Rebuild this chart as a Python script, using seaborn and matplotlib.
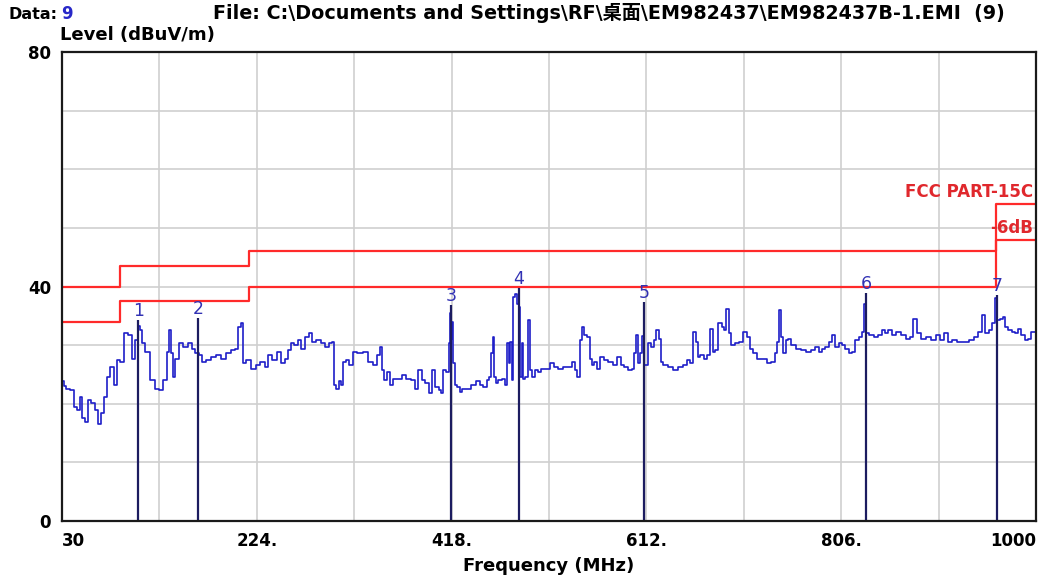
import matplotlib
matplotlib.use("Agg")
import matplotlib.pyplot as plt
import seaborn as sns

# EMI scan trace (MHz, dBuV/m)
freq = [30, 33, 35, 40, 43, 46, 49, 51, 55, 57, 61, 65, 67, 70, 73, 76, 80, 83, 86, 90,
        93, 98, 101, 104, 107, 109, 111, 115, 120, 125, 128, 133, 136, 138, 139, 142, 144, 149, 153, 158,
        161, 164, 168, 171, 176, 181, 186, 191, 196, 201, 204, 207, 210, 211, 216, 221, 225, 230, 234, 237,
        242, 247, 250, 254, 257, 259, 264, 267, 270, 274, 278, 280, 285, 290, 294, 297, 300, 301, 304, 307,
        309, 311, 314, 318, 321, 327, 332, 337, 342, 345, 348, 350, 352, 355, 358, 362, 367, 370, 375, 380,
        383, 387, 390, 393, 397, 400, 403, 407, 408, 411, 414, 416, 417, 418, 419, 420.5, 422.5, 425, 427, 430,
        435, 440, 445, 448, 451, 455, 456, 458, 460, 461, 463, 466, 470, 472, 475, 476, 477, 479, 480, 482,
        485, 486, 487, 489, 490, 493, 495, 497, 500, 503, 506, 509, 514, 518, 521, 526, 531, 536, 540, 542,
        544, 547, 549, 551, 554, 557, 559, 561, 564, 568, 571, 576, 581, 585, 588, 592, 596, 599, 601, 603,
        605, 607, 609, 611, 613, 615, 618, 621, 623, 626, 627, 631, 636, 641, 646, 650, 654, 657, 660, 662,
        664, 667, 671, 674, 677, 679, 682, 685, 689, 690, 693, 695, 698, 702, 707, 710, 714, 716, 720, 725,
        730, 734, 739, 741, 743, 745, 747, 750, 752, 755, 758, 763, 768, 773, 778, 782, 785, 788, 792, 795,
        798, 802, 805, 808, 812, 815, 818, 822, 825, 828, 830, 832, 836, 841, 845, 848, 851, 855, 858, 863,
        868, 873, 876, 880, 883, 888, 893, 898, 903, 906, 911, 914, 919, 924, 931, 936, 941, 944, 948, 951,
        955, 958, 960, 963, 966, 968, 971, 974, 978, 981, 984, 987, 991, 994, 997, 1000]
level = [23.8, 23.0, 22.6, 22.3, 19.5, 18.9, 21.2, 17.5, 16.9, 20.6, 20.1, 18.9, 16.6, 18.4, 21.2, 24.6, 26.3, 23.2, 27.4, 27.2,
         32.0, 31.7, 27.7, 30.9, 33.2, 32.6, 30.3, 28.9, 24.0, 22.6, 22.3, 24.0, 28.9, 32.6, 28.6, 24.6, 27.7, 30.3, 29.7, 30.3,
         29.4, 28.6, 28.3, 27.2, 27.4, 28.0, 28.3, 27.7, 28.6, 29.1, 29.4, 33.1, 33.7, 26.9, 27.4, 26.0, 26.6, 27.2, 26.3, 28.3,
         27.4, 28.9, 26.9, 27.7, 29.1, 30.3, 30.0, 30.9, 29.4, 31.4, 32.0, 30.6, 30.9, 30.3, 29.7, 30.3, 30.6, 23.2, 22.6, 23.8,
         23.2, 27.2, 27.4, 26.6, 28.9, 28.6, 28.9, 27.2, 26.6, 28.3, 29.6, 25.7, 24.0, 25.5, 23.2, 24.3, 24.3, 24.9, 24.3, 24.0,
         22.6, 25.7, 24.0, 23.5, 21.8, 25.7, 22.9, 22.3, 21.8, 25.7, 25.5, 30.3, 35.5, 31.0, 34.0, 26.9, 23.2, 22.9, 22.0, 22.6,
         22.6, 23.2, 23.8, 23.2, 22.9, 24.0, 24.6, 28.6, 31.4, 24.6, 23.5, 24.0, 24.3, 23.2, 30.3, 26.9, 30.6, 24.0, 38.2, 38.8,
         37.1, 36.5, 24.6, 30.3, 24.3, 24.6, 34.3, 25.7, 24.6, 25.7, 25.5, 26.0, 26.0, 26.9, 26.3, 26.0, 26.3, 26.3, 27.2, 25.7,
         24.6, 30.9, 33.1, 31.7, 31.4, 27.7, 26.6, 27.2, 26.0, 28.0, 27.4, 27.2, 26.6, 28.0, 26.6, 26.3, 25.7, 26.0, 28.6, 31.7,
         26.9, 28.6, 31.5, 26.6, 26.6, 30.3, 29.7, 30.9, 32.6, 31.1, 27.2, 26.6, 26.3, 25.7, 26.3, 26.6, 27.4, 26.9, 32.3, 30.6,
         28.0, 28.3, 27.7, 28.3, 32.8, 28.9, 29.1, 33.7, 33.1, 32.6, 36.2, 32.0, 30.0, 30.3, 30.6, 32.3, 31.4, 29.4, 28.6, 27.7,
         27.7, 26.9, 27.2, 28.6, 30.6, 36.0, 31.4, 28.6, 30.9, 31.1, 30.0, 29.4, 29.1, 28.9, 29.1, 29.7, 28.9, 29.4, 29.7, 30.6,
         31.7, 29.7, 30.3, 30.0, 29.4, 28.6, 28.9, 30.9, 31.4, 32.3, 37.0, 32.0, 31.7, 31.4, 31.7, 32.6, 32.0, 32.6, 31.7, 32.3,
         31.7, 31.1, 31.4, 34.5, 32.0, 31.1, 31.4, 30.9, 31.7, 30.9, 32.0, 30.6, 30.9, 30.6, 30.6, 30.9, 31.4, 32.3, 35.1, 32.0,
         32.6, 33.7, 38.0, 34.3, 34.5, 34.8, 33.1, 32.6, 32.3, 32.0, 32.8, 31.7, 30.9, 31.1, 32.3, 32.3]

# marker readings
marker_freq = [106, 165.5, 417.5, 485, 609.7, 830.8, 961]
marker_level = [34.3, 34.6, 36.8, 39.8, 37.3, 38.9, 38.6]
marker_names = ["1", "2", "3", "4", "5", "6", "7"]

# FCC PART-15C limit and the -6dB line
limit_freq = [30, 88, 216, 960, 1000]
limit_level = [40, 43.5, 46, 54, 54]
limit6_level = [34, 37.5, 40, 48, 48]

xtick_pos = [30, 127, 224, 321, 418, 515, 612, 709, 806, 903, 1000]
xtick_labels = ["30", "", "224.", "", "418.", "", "612.", "", "806.", "", "1000"]
ytick_pos = [0, 10, 20, 30, 40, 50, 60, 70, 80]
ytick_labels = ["0", "", "", "", "40", "", "", "", "80"]

sns.set_theme(style="white")
plt.rcParams["font.family"] = ["DejaVu Sans", "Noto Sans CJK SC"]
plt.rcParams["text.color"] = "black"
plt.rcParams["axes.labelcolor"] = "black"
plt.rcParams["xtick.color"] = "black"
plt.rcParams["ytick.color"] = "black"

fig = plt.figure(figsize=(10.57, 5.78), dpi=100)
ax = fig.add_axes([62 / 1057, 1 - 521 / 578, 974 / 1057, 469 / 578])

sns.lineplot(x=limit_freq, y=limit_level, drawstyle="steps-post", color="#ff2a2a", linewidth=1.6, ax=ax)
sns.lineplot(x=limit_freq, y=limit6_level, drawstyle="steps-post", color="#ff2a2a", linewidth=1.6, ax=ax)
sns.lineplot(x=freq, y=level, estimator=None, sort=False, drawstyle="steps-mid",
             color="#1e1ec8", linewidth=1.2, ax=ax)

ax.vlines(marker_freq, 0, marker_level, color="#1c1c60", linewidth=1.6)
for f, l, n in zip(marker_freq, marker_level, marker_names):
    ax.text(f, l, n, ha="center", va="bottom", color="#3232b4", fontsize=12.5)

ax.text(997, 55.3, "FCC PART-15C", ha="right", va="baseline", color="#e0282d",
        fontsize=12, fontweight="bold")
ax.text(997, 49.2, "-6dB", ha="right", va="baseline", color="#e0282d",
        fontsize=12, fontweight="bold")

ax.set_xlim(30, 1000)
ax.set_ylim(0, 80)
ax.set_xticks(xtick_pos)
ax.set_xticklabels(xtick_labels, fontweight="bold", fontsize=12)
xt = ax.get_xticklabels()
xt[0].set_horizontalalignment("left")
xt[-1].set_horizontalalignment("right")
ax.set_yticks(ytick_pos)
ax.set_yticklabels(ytick_labels, fontweight="bold", fontsize=12)
ax.tick_params(axis="x", length=0, pad=8)
ax.tick_params(axis="y", length=0, pad=8)
ax.grid(True, color="#cfcfcf", linewidth=1.2)
for s in ax.spines.values():
    s.set_color("#1a1a1a")
    s.set_linewidth(1.6)
ax.set_xlabel("Frequency (MHz)", fontweight="bold", fontsize=13, labelpad=5)
ax.set_ylabel("")

fig.text(8 / 1057, 1 - 19 / 578, "Data:", fontweight="bold", fontsize=11.5)
fig.text(61 / 1057, 1 - 19 / 578, "9", fontweight="bold", fontsize=12, color="#2828c8")
fig.text(213 / 1057, 1 - 19 / 578, "File: C:\\Documents and Settings\\RF\\桌面\\EM982437\\EM982437B-1.EMI  (9)",
         fontweight="bold", fontsize=13.8)
fig.text(60 / 1057, 1 - 40 / 578, "Level (dBuV/m)", fontweight="bold", fontsize=13)

fig.savefig("out.png", dpi=100)
